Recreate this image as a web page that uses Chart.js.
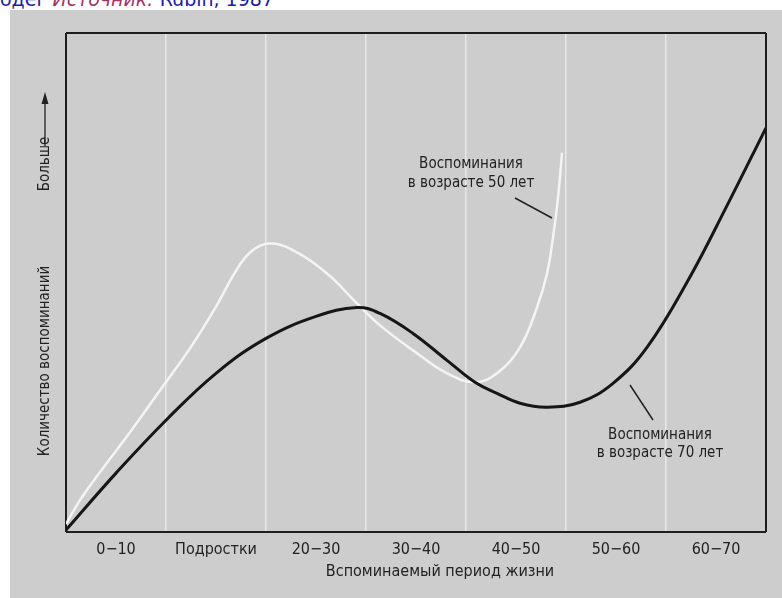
<!DOCTYPE html>
<html>
<head>
<meta charset="utf-8">
<script src="https://cdn.jsdelivr.net/npm/chart.js@4.4.0/dist/chart.umd.min.js"></script>
<style>
  html, body { margin: 0; padding: 0; background: #fff; width: 782px; height: 598px; overflow: hidden; }
  #src { position: absolute; left: 0; top: -12px; font: 19px "DejaVu Sans", sans-serif; line-height: 22px; color: #1c1ca0; white-space: nowrap; }
  #src i { color: #a03468; }
  #panel { position: absolute; left: 10px; top: 10px; width: 772px; height: 588px; background: #cdcdcd; }
  #wrap { position: absolute; left: 0; top: 0; width: 782px; height: 598px; }
</style>
</head>
<body>
<div id="panel"></div>
<div id="src">одег <i>Источник:</i> Rubin, 1987</div>
<div id="wrap"><canvas id="chart" width="782" height="598"></canvas></div>
<script>
// подписи периодов жизни (по центру каждой полосы)
const periodLabels = ['0\u221210', 'Подростки', '20\u221230', '30\u221240', '40\u221250', '50\u221260', '60\u221270'];

// воспоминания в возрасте 70 лет (чёрная кривая)
const age70X = [0, 5, 10, 15, 20, 25, 29.1, 31.4, 34.7, 38.1, 40.9, 43.1, 45.4, 48.1, 51.4, 54.7, 58.1, 62.2, 66.1, 70];
const age70Y = [0.4, 11.8, 22.4, 31.8, 38.8, 43.2, 45, 43.8, 39.8, 34.4, 30, 27.8, 25.8, 25, 26, 29.8, 37, 50.4, 65.4, 81];

// воспоминания в возрасте 50 лет (белая кривая)
const age50X = [0, 1.4, 3.4, 6.4, 9.4, 12.4, 14.9, 16.9, 18.4, 20.2, 22.4, 26.1, 29.1, 31.4, 34.7, 38.1, 40.9, 43.1, 45.4, 47.1, 48.1, 48.7, 49.2, 49.6];
const age50Y = [1.6, 6.4, 12, 20, 28.4, 36.8, 44.8, 52, 56, 57.8, 56.8, 51.8, 45.8, 41.4, 36.4, 31.8, 30, 31.8, 37, 45, 51.8, 59, 67, 76];

const FONT = '"DejaVu Sans Condensed", "Liberation Sans Narrow", sans-serif';
const INK = '#222';

function toPoints(xs, ys) {
  return xs.map((x, i) => ({ x: x, y: ys[i] }));
}

// подписи, стрелка и выноски поверх графика
const overlay = {
  id: 'overlay',
  afterDraw(chart) {
    const ctx = chart.ctx;
    ctx.save();
    ctx.fillStyle = INK;
    ctx.strokeStyle = INK;
    ctx.textAlign = 'center';
    ctx.textBaseline = 'middle';

    // ось X — название
    ctx.font = '16px ' + FONT;
    ctx.fillText('Вспоминаемый период жизни', 440, 572);

    // ось Y — название и "Больше →"
    ctx.font = '15px ' + FONT;
    ctx.save();
    ctx.translate(45, 361);
    ctx.rotate(-Math.PI / 2);
    ctx.fillText('Количество воспоминаний', 0, 0);
    ctx.restore();
    ctx.save();
    ctx.translate(45, 164);
    ctx.rotate(-Math.PI / 2);
    ctx.fillText('Больше', 0, 0);
    ctx.restore();
    ctx.lineWidth = 1.3;
    ctx.beginPath();
    ctx.moveTo(45, 146);
    ctx.lineTo(45, 102);
    ctx.stroke();
    ctx.beginPath();
    ctx.moveTo(45, 92);
    ctx.lineTo(41.5, 104);
    ctx.lineTo(48.5, 104);
    ctx.closePath();
    ctx.fill();

    // выноски
    ctx.fillText('Воспоминания', 471, 164);
    ctx.fillText('в возрасте 50 лет', 471, 183);
    ctx.fillText('Воспоминания', 660, 435);
    ctx.fillText('в возрасте 70 лет', 660, 453);
    ctx.lineWidth = 1.5;
    ctx.beginPath();
    ctx.moveTo(515, 198); ctx.lineTo(552, 218);
    ctx.moveTo(630, 385); ctx.lineTo(653, 420);
    ctx.stroke();
    ctx.restore();
  }
};

new Chart(document.getElementById('chart'), {
  type: 'line',
  data: {
    datasets: [
      {
        label: 'Воспоминания в возрасте 70 лет',
        data: toPoints(age70X, age70Y),
        borderColor: '#161616',
        borderWidth: 3,
        pointRadius: 0,
        tension: 0.4
      },
      {
        label: 'Воспоминания в возрасте 50 лет',
        data: toPoints(age50X, age50Y),
        borderColor: '#f4f4f4',
        borderWidth: 2.5,
        pointRadius: 0,
        tension: 0.4
      }
    ]
  },
  options: {
    responsive: false,
    animation: false,
    layout: { padding: { left: 10, top: 33, right: 16, bottom: 0 } },
    plugins: { legend: { display: false }, tooltip: { enabled: false } },
    scales: {
      x: {
        type: 'linear',
        min: 0,
        max: 70,
        afterFit: (axis) => { axis.height = 66; },
        border: { display: false },
        grid: {
          drawTicks: false,
          color: (c) => {
            const v = c.tick.value;
            if (v === 0 || v === 70) return '#1e1e1e';
            return v % 10 === 0 ? 'rgba(240,240,240,0.75)' : 'rgba(0,0,0,0)';
          },
          lineWidth: (c) => (c.tick.value === 0 || c.tick.value === 70) ? 2 : 1.5
        },
        ticks: {
          stepSize: 5,
          autoSkip: false,
          maxRotation: 0,
          padding: 8,
          color: INK,
          font: { family: FONT, size: 16 },
          callback: (v) => (v % 10 === 5) ? periodLabels[(v - 5) / 10] : ''
        }
      },
      y: {
        min: 0,
        max: 100,
        afterFit: (axis) => { axis.width = 56; },
        border: { display: false },
        grid: {
          drawTicks: false,
          color: (c) => (c.tick.value === 0 || c.tick.value === 100) ? '#1e1e1e' : 'rgba(0,0,0,0)',
          lineWidth: 2
        },
        ticks: { display: false, stepSize: 100 }
      }
    }
  },
  plugins: [overlay]
});
</script>
</body>
</html>
